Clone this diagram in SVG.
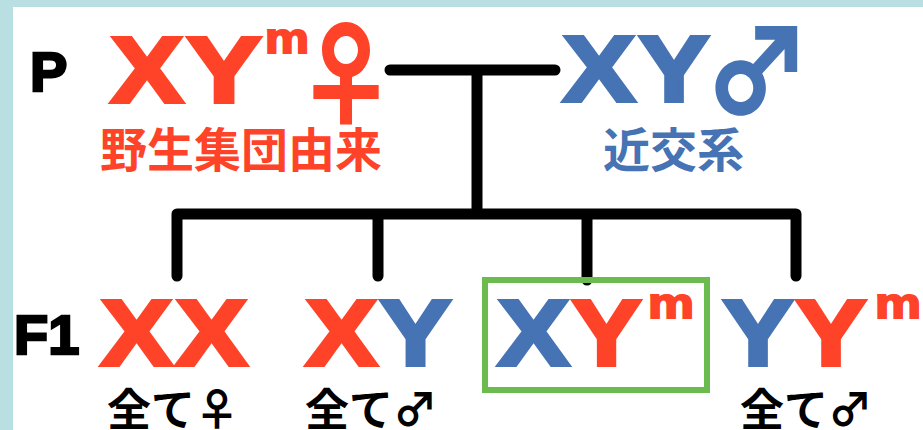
<svg xmlns="http://www.w3.org/2000/svg" width="923" height="430" viewBox="0 0 923 430">
<style>
.big{font-family:"Liberation Sans",Arial,sans-serif;font-weight:bold;font-size:92px;stroke-width:4;stroke-linejoin:miter}
.sup{font-family:"Liberation Sans",Arial,sans-serif;font-weight:bold;font-size:42px;stroke-width:2}
.lab{font-family:"Liberation Sans",Arial,sans-serif;font-weight:bold;font-size:56px;fill:#000;stroke:#000;stroke-width:2.5}
.jp{font-family:"Noto Sans CJK JP",sans-serif;font-weight:bold}
.sym{font-family:"Noto Sans CJK JP",sans-serif;font-weight:900}
.r{fill:#fe4328;stroke:#fe4328}
.b{fill:#4673b4;stroke:#4673b4}
.k{fill:#000}
.jp.r,.jp.b,.sym.r,.sym.b{stroke:none}
.ln{fill:none;stroke:#000;stroke-width:11;stroke-linecap:round;stroke-linejoin:round}
</style>
<rect x="0" y="0" width="923" height="430" fill="#b9dfe3"/>
<rect x="13" y="7" width="910" height="423" fill="#fff"/>
<g id="connectors">
<path class="ln" d="M390 70 H555 M477 70 V214 M177 276 V214 H796 V276 M378 214 V276 M587 214 V280"/>
</g>
<g id="label-P"><text class="lab" x="30" y="91">P</text></g>
<g id="label-F1"><text class="lab" x="14" y="354">F1</text></g>
<g id="mother">
<text class="big r" x="111" y="102" textLength="72" lengthAdjust="spacingAndGlyphs">X</text>
<text class="big r" x="187" y="102" textLength="74" lengthAdjust="spacingAndGlyphs">Y</text>
<text class="sup r" x="265" y="53" textLength="44" lengthAdjust="spacingAndGlyphs">m</text>
<text class="sym r" font-size="100" transform="translate(296 117) scale(1 1.16)">♀</text>
<text class="jp r" x="100" y="167" font-size="47">野生集団由来</text>
</g>
<g id="father">
<text class="big b" x="563" y="101" textLength="72" lengthAdjust="spacingAndGlyphs">X</text>
<text class="big b" x="639" y="101" textLength="70" lengthAdjust="spacingAndGlyphs">Y</text>
<text class="sym b" font-size="105" transform="translate(704 114) scale(1 1.095)">♂</text>
<text class="jp b" x="603" y="167" font-size="47">近交系</text>
</g>
<g id="f1-xx">
<text class="big r" x="101" y="365" textLength="71" lengthAdjust="spacingAndGlyphs">X</text>
<text class="big r" x="176" y="365" textLength="71" lengthAdjust="spacingAndGlyphs">X</text>
<text class="jp k" x="107" y="426" font-size="44">全て♀</text>
</g>
<g id="f1-xy">
<text class="big r" x="306" y="365" textLength="71" lengthAdjust="spacingAndGlyphs">X</text>
<text class="big b" x="380" y="365" textLength="71" lengthAdjust="spacingAndGlyphs">Y</text>
<text class="jp k" x="305" y="426" font-size="44">全て♂</text>
</g>
<g id="f1-xym">
<rect x="485" y="280" width="222" height="110" fill="none" stroke="#6cbb4e" stroke-width="6"/>
<text class="big b" x="498" y="365" textLength="71" lengthAdjust="spacingAndGlyphs">X</text>
<text class="big r" x="572" y="365" textLength="69" lengthAdjust="spacingAndGlyphs">Y</text>
<text class="sup r" x="648" y="318" textLength="46" lengthAdjust="spacingAndGlyphs">m</text>
</g>
<g id="f1-yym">
<text class="big b" x="723" y="365" textLength="70" lengthAdjust="spacingAndGlyphs">Y</text>
<text class="big r" x="796" y="365" textLength="70" lengthAdjust="spacingAndGlyphs">Y</text>
<text class="sup r" x="875" y="318" textLength="46" lengthAdjust="spacingAndGlyphs">m</text>
<text class="jp k" x="740" y="426" font-size="44">全て♂</text>
</g>
</svg>
